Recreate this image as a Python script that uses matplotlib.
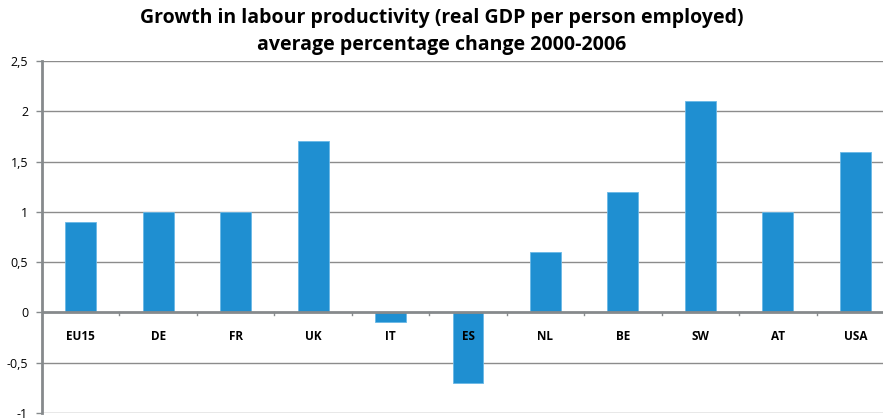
import numpy as np
import matplotlib.pyplot as plt

countries = ["EU15", "DE", "FR", "UK", "IT", "ES", "NL", "BE", "SW", "AT", "USA"]
growth = [0.9, 1.0, 1.0, 1.7, -0.1, -0.7, 0.6, 1.2, 2.1, 1.0, 1.6]
yticks = [-1, -0.5, 0, 0.5, 1, 1.5, 2, 2.5]
ytick_labels = ["-1", "-0,5", "0", "0,5", "1", "1,5", "2", "2,5"]

plt.rcParams['font.family'] = ['Open Sans', 'DejaVu Sans']

fig = plt.figure(figsize=(8.83, 4.19), dpi=100)
ax = fig.add_axes([42/883, 1 - 413/419, 852/883, 352/419])

x = np.arange(len(countries))
ax.bar(x, growth, width=0.4, color="#1f8fd1", edgecolor="#6ab8e6", linewidth=0.6, zorder=3)

ax.set_xlim(-0.5, len(countries) - 0.5)
ax.set_ylim(-1, 2.5)
ax.set_yticks(yticks)
ax.set_yticklabels(ytick_labels, fontsize=9)
for y in yticks:
    if y != 0:
        ax.axhline(y, color="#8c8c8c", linewidth=1.0, zorder=1)
ax.axhline(0, color="#868a8c", linewidth=2.0, zorder=4)

# category ticks along zero line and labels below it
for b in np.arange(0.5, len(countries) - 0.5):
    ax.plot([b, b], [0, -0.025], color="#868a8c", linewidth=1.0, zorder=4)
for xi, name in zip(x, countries):
    ax.text(xi, -0.235, name, ha="center", va="center", fontsize=8.5, fontweight="bold", zorder=5)

ax.set_xticks([])
for s in ["top", "right", "bottom"]:
    ax.spines[s].set_visible(False)
ax.spines["left"].set_color("#868a8c")
ax.spines["left"].set_linewidth(2.0)
ax.tick_params(axis="y", length=4, color="#868a8c", width=1, pad=6)

fig.text(0.5, 1 - 18/419, "Growth in labour productivity (real GDP per person employed)",
         ha="center", va="center", fontsize=14, fontweight="bold")
fig.text(0.5, 1 - 45/419, "average percentage change 2000-2006",
         ha="center", va="center", fontsize=14, fontweight="bold")

fig.savefig("out.png", dpi=100)
